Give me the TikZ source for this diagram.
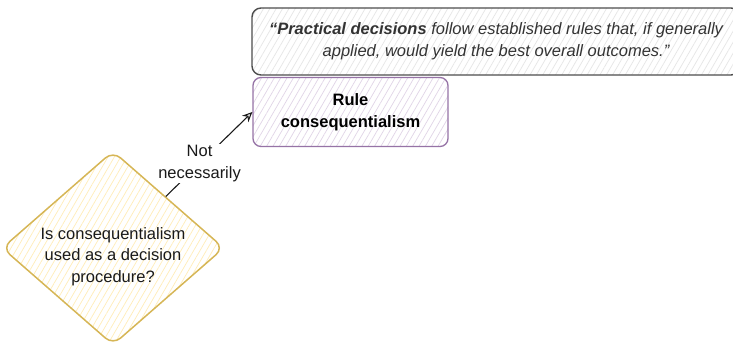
\documentclass[tikz,border=0pt]{standalone}
\usepackage{fontspec}
\setmainfont{Liberation Sans}
\usetikzlibrary{shapes.geometric,arrows.meta,patterns.meta}

\definecolor{quoteline}{HTML}{4D4D4D}
\definecolor{quotehatch}{HTML}{E6E6E6}
\definecolor{quotetext}{HTML}{333333}
\definecolor{ruleline}{HTML}{9673A6}
\definecolor{rulehatch}{HTML}{E1D5E7}
\definecolor{askline}{HTML}{D6B656}
\definecolor{askhatch}{HTML}{FFEDB8}
\definecolor{ink}{HTML}{1A1A1A}

\tikzset{
  txt/.style={font=\fontsize{16.5}{21.5}\selectfont, text=ink, align=center},
  hatched/.style={preaction={fill=white},
    pattern={Lines[angle=60,distance=5.5pt,line width=0.7pt]}, pattern color=#1},
  quotebox/.style={txt, font=\fontsize{16.5}{22}\selectfont\itshape, text=quotetext,
    draw=quoteline, line width=1.4pt, rounded corners=9pt,
    hatched=quotehatch, minimum width=488pt, minimum height=67pt, inner sep=0pt},
  rulebox/.style={txt, font=\fontsize{16.5}{21.5}\selectfont\bfseries, text=black,
    draw=ruleline, line width=1.3pt, rounded corners=8pt,
    hatched=rulehatch, minimum width=195pt, minimum height=69pt, inner sep=0pt},
  askbox/.style={diamond, draw=askline, line width=1.5pt, rounded corners=10pt,
    hatched=askhatch, minimum width=222pt, minimum height=194pt, inner sep=0pt},
  link/.style={draw=ink, line width=1.1pt, -{Stealth[open,length=10pt,width=9pt]}},
  linklabel/.style={txt, fill=white, inner sep=1.5pt}
}

\begin{document}
\begin{tikzpicture}[x=1pt,y=-1pt]
  \useasboundingbox (0,0) rectangle (733,344);

  % statement of the rule
  \node[quotebox] (quote) at (496,41.5)
    {\textbf{“Practical decisions} follow established rules that, if generally\\
     applied, would yield the best overall outcomes.”};

  % answer box
  \node[rulebox] (rule) at (350.5,112) {Rule\\ consequentialism};

  % decision diamond
  \node[askbox] (ask) at (113,248) {};
  \node[txt] (asktext) at (113,256.5) {Is consequentialism\\ used as a decision\\ procedure?};

  % connector
  \path[link] (ask) -- node[linklabel, pos=0.39] (answer) {Not\\ necessarily} (rule.west);
\end{tikzpicture}
\end{document}
